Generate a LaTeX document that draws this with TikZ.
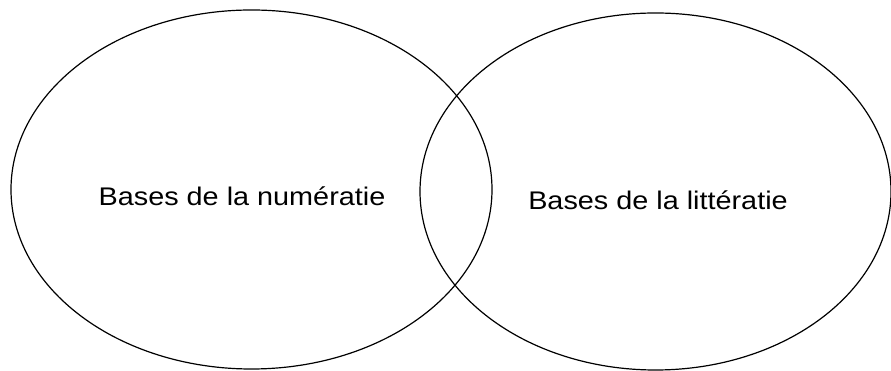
\documentclass[tikz,border=0pt]{standalone}
\usepackage{fontspec}
\setmainfont{Liberation Sans}
\usepackage{tikz}

\tikzset{
  setline/.style={line width=1.2pt,black},
  setlabel/.style={anchor=base,inner sep=0pt,xscale=1.13,transform shape,
    font=\fontsize{25.5}{30}\selectfont}
}

\begin{document}
\begin{tikzpicture}[x=1pt,y=1pt]
  \useasboundingbox (0,0) rectangle (891,371);
  % the two sets
  \draw[setline] (251.5,181.5) ellipse [x radius=240.5,y radius=179.5];
  \draw[setline] (655.5,179.5) ellipse [x radius=235.5,y radius=178.5];
  % labels
  \node[setlabel] (numeratie) at (242,165) {Bases de la numératie};
  \node[setlabel] (litteratie) at (658,161) {Bases de la littératie};
\end{tikzpicture}
\end{document}
